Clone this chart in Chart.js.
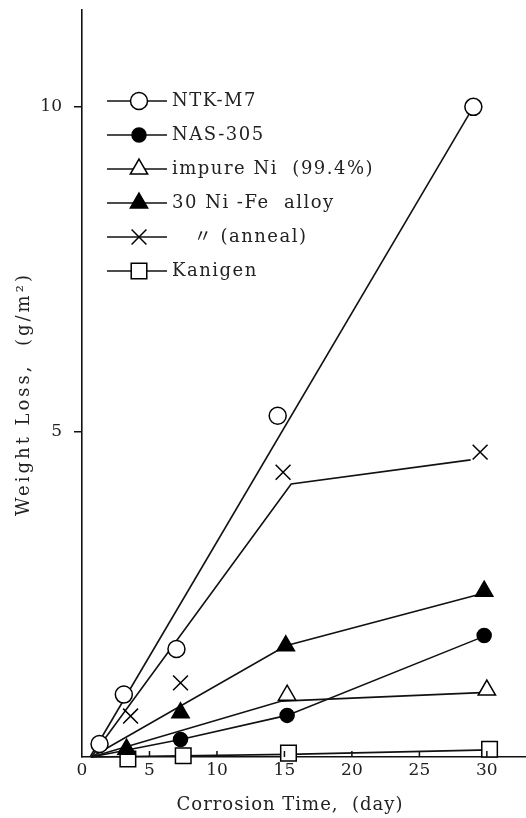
<!DOCTYPE html>
<html><head><meta charset="utf-8">
<script src="https://cdn.jsdelivr.net/npm/chart.js@4.4.0/dist/chart.umd.min.js"></script>
<style>html,body{margin:0;padding:0;background:#fff;}#wrap{width:526px;height:818px;}</style>
</head><body><div id="wrap"><canvas id="c" width="526" height="818"></canvas></div>
<script>
// ---- data ----
const dayTicks = [0, 5, 10, 15, 20, 25, 30];
const lossTicks = [5, 10];
const seriesNames = ["NTK-M7", "NAS-305", "impure Ni  (99.4%)", "30 Ni -Fe  alloy", "   〃 (anneal)", "Kanigen"];
const xTitle = "Corrosion Time,  (day)";
const yTitle = "Weight Loss,  (g/m²)";

// measured points (markers)
const ntkDays = [1.3, 3.1, 7.0, 14.5, 29.0];
const ntkLoss = [0.20, 0.96, 1.66, 5.25, 10.0];
const nasDays = [7.3, 15.2, 29.8];
const nasLoss = [0.27, 0.64, 1.87];
const impureDays = [15.2, 30.0];
const impureLoss = [0.95, 1.03];
const nifeDays = [3.3, 7.3, 15.1, 29.8];
const nifeLoss = [0.12, 0.68, 1.71, 2.55];
const annealDays = [3.6, 7.3, 14.9, 29.5];
const annealLoss = [0.63, 1.14, 4.38, 4.69];
const kanigenDays = [3.4, 7.5, 15.3, 30.2];
const kanigenLoss = [-0.03, 0.02, 0.06, 0.12];

// hand-drawn trend lines
const ntkFitDays = [0.6, 29.0];
const ntkFitLoss = [0, 10.0];
const nasFitDays = [0.7, 7.3, 15.2, 29.6];
const nasFitLoss = [0, 0.27, 0.64, 1.84];
const impureFitDays = [0.7, 14.8, 29.6];
const impureFitLoss = [0, 0.86, 0.99];
const nifeFitDays = [0.7, 15.1, 29.4];
const nifeFitLoss = [0, 1.71, 2.50];
const annealFitDays = [0.7, 15.5, 28.8];
const annealFitLoss = [0, 4.20, 4.57];
const kanigenFitDays = [0.7, 15.3, 30.2];
const kanigenFitLoss = [0, 0.04, 0.11];

// ---- build ----
const pts = (xs, ys) => xs.map((x, i) => ({x: x, y: ys[i]}));
const FONT = "'DejaVu Serif', 'Liberation Serif', 'Noto Sans CJK JP', serif";
const styles = [
  {pointStyle: 'circle', radius: 8.5, bg: '#fff'},
  {pointStyle: 'circle', radius: 7, bg: '#000'},
  {pointStyle: 'triangle', radius: 10, bg: '#fff'},
  {pointStyle: 'triangle', radius: 10, bg: '#000'},
  {pointStyle: 'crossRot', radius: 10.5, bg: '#fff'},
  {pointStyle: 'rect', radius: 11, bg: '#fff'}
];
const markerData = [pts(ntkDays, ntkLoss), pts(nasDays, nasLoss), pts(impureDays, impureLoss),
  pts(nifeDays, nifeLoss), pts(annealDays, annealLoss), pts(kanigenDays, kanigenLoss)];
const fitData = [pts(ntkFitDays, ntkFitLoss), pts(nasFitDays, nasFitLoss), pts(impureFitDays, impureFitLoss),
  pts(nifeFitDays, nifeFitLoss), pts(annealFitDays, annealFitLoss), pts(kanigenFitDays, kanigenFitLoss)];

const datasets = [];
seriesNames.forEach((name, i) => {
  datasets.push({
    label: name.trim(), data: markerData[i], showLine: false, order: 0, clip: false,
    pointStyle: styles[i].pointStyle, pointRadius: styles[i].radius, pointHoverRadius: styles[i].radius,
    pointBackgroundColor: styles[i].bg, pointBorderColor: '#000', pointBorderWidth: 1.5
  });
});
seriesNames.forEach((name, i) => {
  datasets.push({
    label: name.trim() + ' fit', data: fitData[i], showLine: true, order: 1, clip: false,
    borderColor: '#111', borderWidth: 1.6, pointRadius: 0, pointHoverRadius: 0, tension: 0, fill: false
  });
});

const legendPlugin = {
  id: 'handLegend',
  afterDatasetsDraw(chart) {
    const ctx = chart.ctx;
    const y0 = 101, dy = 34, lx0 = 107, lx1 = 167, mx = 139, tx = 172;
    ctx.save();
    seriesNames.forEach((name, i) => {
      const y = y0 + i * dy;
      ctx.strokeStyle = '#111'; ctx.lineWidth = 1.6;
      ctx.beginPath(); ctx.moveTo(lx0, y); ctx.lineTo(lx1, y); ctx.stroke();
      ctx.fillStyle = styles[i].bg; ctx.strokeStyle = '#000'; ctx.lineWidth = 1.5;
      Chart.helpers.drawPoint(ctx, {pointStyle: styles[i].pointStyle, radius: styles[i].radius, rotation: 0, borderWidth: 1.5}, mx, y);
      ctx.fillStyle = '#222'; ctx.font = '18px ' + FONT; ctx.letterSpacing = '1.5px';
      ctx.textBaseline = 'middle'; ctx.textAlign = 'left';
      ctx.fillText(name, tx, y);
    });
    ctx.restore();
  }
};

const axisExtrasPlugin = {
  id: 'axisExtras',
  afterDraw(chart) {
    const ctx = chart.ctx, xs = chart.scales.x, ys = chart.scales.y;
    const yb = ys.getPixelForValue(0);
    ctx.save(); ctx.strokeStyle = '#111'; ctx.lineWidth = 1.5;
    dayTicks.forEach(v => { if (v === 0) return; const px = xs.getPixelForValue(v);
      ctx.beginPath(); ctx.moveTo(px, yb); ctx.lineTo(px, yb - 6); ctx.stroke(); });
    // axis titles
    ctx.fillStyle = '#222'; ctx.textAlign = 'center'; ctx.textBaseline = 'middle';
    ctx.font = '18px ' + FONT; ctx.letterSpacing = '1px';
    ctx.fillText(xTitle, 290, 805);
    ctx.translate(24, 394); ctx.rotate(-Math.PI / 2);
    ctx.letterSpacing = '3px';
    ctx.fillText(yTitle, 0, 0);
    ctx.restore();
  }
};

const zeroPad = s => { s.paddingLeft = 0; s.paddingRight = 0; s.paddingTop = 0; s.paddingBottom = 0; };

new Chart(document.getElementById('c'), {
  type: 'scatter',
  data: {datasets: datasets},
  options: {
    responsive: false, animation: false, devicePixelRatio: 1,
    layout: {autoPadding: false, padding: {top: 10, right: 0, bottom: 0, left: 0}},
    plugins: {legend: {display: false}, tooltip: {enabled: false}},
    scales: {
      x: {
        type: 'linear', min: 0, max: 32.9,
        afterBuildTicks: s => { s.ticks = dayTicks.map(v => ({value: v})); },
        afterFit: s => { s.height = 61; zeroPad(s); },
        grid: {drawOnChartArea: false, drawTicks: false},
        border: {display: true, color: '#111', width: 1.6},
        ticks: {color: '#222', font: {family: FONT, size: 17}, padding: 3, maxRotation: 0, autoSkip: false},
        title: {display: false}
      },
      y: {
        type: 'linear', min: 0, max: 11.49,
        afterBuildTicks: s => { s.ticks = lossTicks.map(v => ({value: v})); },
        afterFit: s => { s.width = 82; zeroPad(s); },
        grid: {drawOnChartArea: false, drawTicks: true, tickLength: 8, color: '#111', lineWidth: 1.5},
        border: {display: true, color: '#111', width: 1.6},
        ticks: {color: '#222', font: {family: FONT, size: 17}, padding: 12},
        title: {display: false}
      }
    }
  },
  plugins: [legendPlugin, axisExtrasPlugin]
});
</script></body></html>
